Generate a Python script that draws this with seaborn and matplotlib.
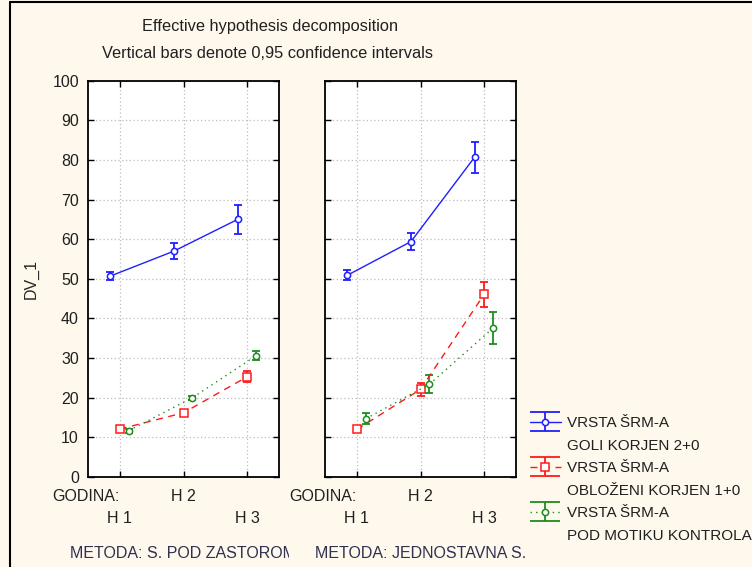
import matplotlib
matplotlib.use('Agg')
import matplotlib.pyplot as plt
import numpy as np
import pandas as pd
import seaborn as sns
from matplotlib.container import ErrorbarContainer
from matplotlib.legend_handler import HandlerErrorbar
from matplotlib.lines import Line2D
from matplotlib.transforms import Bbox, TransformedBbox

# podaci (ocitano sa slike)
godina = ['H 1', 'H 2', 'H 3']
metode = ['METODA: S. POD ZASTOROM', 'METODA: JEDNOSTAVNA S.']
vrsta_red1 = ['VRSTA ŠRM-A', 'VRSTA ŠRM-A', 'VRSTA ŠRM-A']
vrsta_red2 = ['GOLI KORJEN 2+0', 'OBLOŽENI KORJEN 1+0', 'POD MOTIKU KONTROLA']

# METODA: S. POD ZASTOROM
goli_zastor = [50.7, 57.0, 65.0]
goli_zastor_ci = [1.1, 2.0, 3.6]
oblozeni_zastor = [12.1, 16.2, 25.3]
oblozeni_zastor_ci = [0.4, 0.8, 1.4]
motika_zastor = [11.7, 20.0, 30.6]
motika_zastor_ci = [0.5, 0.5, 1.2]

# METODA: JEDNOSTAVNA S.
goli_jedn = [50.9, 59.4, 80.7]
goli_jedn_ci = [1.3, 2.1, 3.9]
oblozeni_jedn = [12.0, 22.1, 46.1]
oblozeni_jedn_ci = [0.4, 1.7, 3.1]
motika_jedn = [14.7, 23.4, 37.6]
motika_jedn_ci = [1.4, 2.3, 4.1]

sredine = [[goli_zastor, oblozeni_zastor, motika_zastor],
           [goli_jedn, oblozeni_jedn, motika_jedn]]
intervali = [[goli_zastor_ci, oblozeni_zastor_ci, motika_zastor_ci],
             [goli_jedn_ci, oblozeni_jedn_ci, motika_jedn_ci]]

boje = ['#1f1fff', '#ff1a1a', '#1e8c1e']
stilovi = ['-', (0, (5, 4)), (0, (1, 3))]
markeri = ['o', 's', 'o']
velicine = [4.5, 5.5, 4.5]
pomak = [-0.15, 0.0, 0.14]

sns.set_style('ticks')
plt.rcParams['font.family'] = ['Liberation Sans', 'DejaVu Sans']
plt.rcParams['text.color'] = '#202020'
fs = 11.5

pozadina = '#fef8ed'
fig = plt.figure(figsize=(7.52, 5.67), dpi=100, facecolor=pozadina)
ax1 = fig.add_axes([88/752, 90/567, 191/752, 396.3/567])
ax2 = fig.add_axes([325/752, 90/567, 191/752, 396.3/567])
axes = [ax1, ax2]

kontejneri = []
for p, ax in enumerate(axes):
    ax.set_facecolor('white')
    for k in range(3):
        x = np.arange(3) + pomak[k]
        df = pd.DataFrame({'godina': x, 'dv': sredine[p][k]})
        sns.lineplot(data=df, x='godina', y='dv', ax=ax, color=boje[k],
                     linestyle=stilovi[k], linewidth=1.0, marker=markeri[k],
                     markersize=velicine[k], markerfacecolor='white',
                     markeredgecolor=boje[k], markeredgewidth=1.1,
                     errorbar=None, legend=False, zorder=4)
        linija = ax.lines[-1]
        eb = ax.errorbar(x, sredine[p][k], yerr=intervali[p][k], fmt='none',
                         ecolor=boje[k], elinewidth=1.3, capsize=3.2,
                         capthick=1.3, zorder=3)
        if p == 0:
            kontejneri.append(ErrorbarContainer((linija, eb.lines[1], eb.lines[2]),
                                                has_xerr=False, has_yerr=True))

    ax.set_xlim(-0.5, 2.5)
    ax.set_ylim(0, 100)
    ax.set_yticks(range(0, 101, 10))
    # H 2 u prvom redu, H 1 i H 3 u drugom
    ax.set_xticks([1], labels=[godina[1]])
    ax.set_xticks([0, 2], labels=[godina[0], godina[2]], minor=True)
    ax.grid(True, which='both', color='#bdbdbd', linestyle=(0, (1, 2)), linewidth=0.9)
    ax.tick_params(which='both', direction='in', length=4, width=1, color='black',
                   top=True, right=True, labelsize=fs, pad=6.5,
                   labelcolor='#202020')
    ax.tick_params(axis='x', which='major', pad=8.7)
    ax.tick_params(axis='x', which='minor', pad=24.5)
    for s in ax.spines.values():
        s.set_color('black')
        s.set_linewidth(1.3)
    ax.set_xlabel('')
    ax.set_ylabel('')
    ax.text(0, -0.0485, 'GODINA:', transform=ax.get_xaxis_transform(),
            ha='right', va='center', fontsize=fs, color='#202020')
    t = ax.text(1, -0.192, metode[p], transform=ax.get_xaxis_transform(),
                ha='center', va='center', fontsize=fs, color='#303050')
    if p == 0:
        t.set_clip_on(True)
        t.set_clip_box(TransformedBbox(Bbox.from_extents(0, 0, 289/752, 1),
                                       fig.transFigure))

ax2.tick_params(labelleft=False)
ax1.set_ylabel('DV_1', fontsize=fs, labelpad=10)

# naslov
fig.text(270/752, 1 - 27/567, 'Effective hypothesis decomposition',
         ha='center', va='center', fontsize=11.8)
fig.text(268/752, 1 - 53/567, 'Vertical bars denote 0,95 confidence intervals',
         ha='center', va='center', fontsize=11.8)


def siroke_kapice(handle, orig):
    handle.update_from(orig)
    if isinstance(handle, Line2D) and handle.get_marker() == '_':
        handle.set_markersize(22)


handles, labels = [], []
for k in range(3):
    handles += [kontejneri[k], Line2D([], [], color='none')]
    labels += [vrsta_red1[k], vrsta_red2[k]]
fig.legend(handles, labels, loc='upper left',
           bbox_to_anchor=(530/752, 1 - 416/567), frameon=False,
           borderpad=0, borderaxespad=0, handlelength=2.0,
           handletextpad=0.4, labelspacing=0.56, numpoints=1, fontsize=11,
           handler_map={ErrorbarContainer: HandlerErrorbar(yerr_size=0.62,
                                                           update_func=siroke_kapice)})

# okvir slike
fig.add_artist(Line2D([10/752, 10/752], [0, 1 - 1.5/567], color='black',
                      lw=1.5, transform=fig.transFigure))
fig.add_artist(Line2D([10/752, 1], [1 - 1.5/567, 1 - 1.5/567], color='black',
                      lw=1.5, transform=fig.transFigure))

fig.savefig('out.png', dpi=100, facecolor=pozadina)
